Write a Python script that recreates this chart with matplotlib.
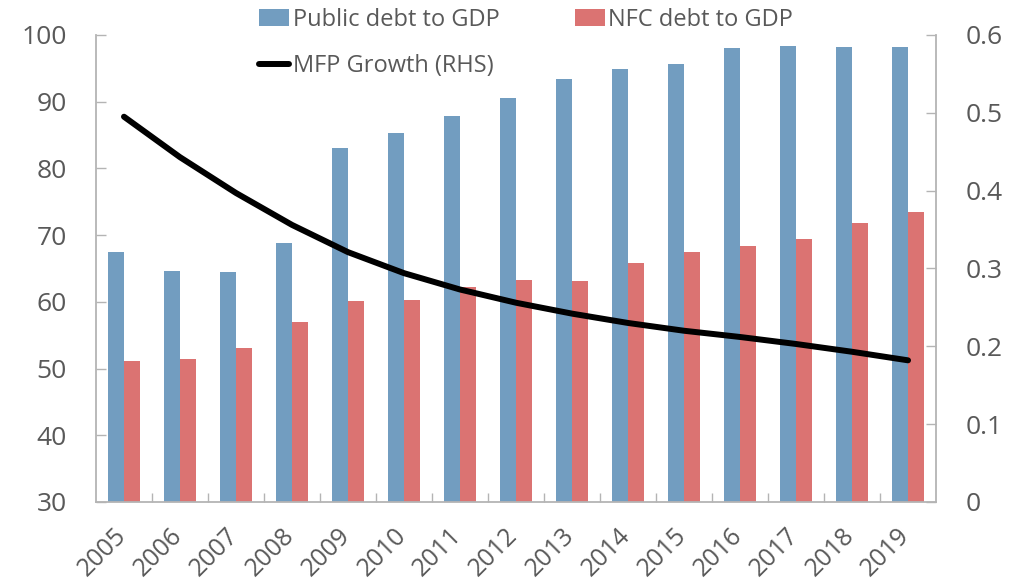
import numpy as np
import matplotlib
matplotlib.use('Agg')
import matplotlib.pyplot as plt
import matplotlib.transforms as mtransforms
from matplotlib.ticker import FixedLocator

plt.rcParams['font.family'] = ['Open Sans', 'DejaVu Sans']

years = ['2005', '2006', '2007', '2008', '2009', '2010', '2011', '2012',
         '2013', '2014', '2015', '2016', '2017', '2018', '2019']
public_debt = [67.4, 64.6, 64.5, 68.8, 83.1, 85.3, 87.8, 90.6,
               93.4, 94.9, 95.6, 98.0, 98.3, 98.15, 98.15]
nfc_debt = [51.2, 51.4, 53.1, 57.0, 60.2, 60.3, 62.2, 63.3,
            63.1, 65.8, 67.5, 68.4, 69.4, 71.8, 73.4]
mfp_growth = [0.495, 0.443, 0.397, 0.356, 0.321, 0.294, 0.273, 0.256,
              0.242, 0.230, 0.220, 0.212, 0.203, 0.193, 0.182]

blue = '#729dc0'
red = '#db7372'
grey_text = '#595959'
spine_col = '#b4b4b4'

fig = plt.figure(figsize=(10.31, 5.85), dpi=100)
ax = fig.add_axes([0.0931, 0.1419, 0.8148, 0.7983])
ax2 = ax.twinx()

x = np.arange(len(years))
w = 0.286
b1 = ax.bar(x - w / 2, public_debt, width=w, color=blue, label='Public debt to GDP', zorder=2)
b2 = ax.bar(x + w / 2, nfc_debt, width=w, color=red, label='NFC debt to GDP', zorder=2)
ln, = ax2.plot(x, mfp_growth, color='black', lw=4.3, solid_capstyle='round',
               label='MFP Growth (RHS)')

ax.set_xlim(-0.5, len(years) - 0.5)
ax.set_ylim(30, 100)
ax2.set_ylim(0, 0.6)
ax.set_yticks(np.arange(30, 101, 10))
ax2.set_yticks(np.arange(0, 0.61, 0.1))
ax2.set_yticklabels(['0', '0.1', '0.2', '0.3', '0.4', '0.5', '0.6'])

ax.set_xticks(x)
ax.set_xticklabels(years, rotation=45, ha='right')
ax.xaxis.set_minor_locator(FixedLocator(np.arange(0.5, len(years) - 1, 1)))
ax.tick_params(axis='x', which='major', length=0, pad=15, labelsize=18, labelcolor=grey_text)
ax.tick_params(axis='x', which='minor', direction='in', length=6.5, width=1, color=spine_col)
ax.tick_params(axis='y', direction='in', length=7, width=1, color=spine_col,
               pad=21, labelsize=19, labelcolor=grey_text)
ax2.tick_params(axis='y', direction='in', length=7, width=1, color=spine_col,
                pad=21, labelsize=19, labelcolor=grey_text)

# nudge rotated year labels slightly right
offset = mtransforms.ScaledTranslation(7 / 100, 0, fig.dpi_scale_trans)
for lab in ax.get_xticklabels():
    lab.set_transform(lab.get_transform() + offset)

for a in (ax, ax2):
    a.spines['top'].set_visible(False)
    for s in ('left', 'right', 'bottom'):
        a.spines[s].set_color(spine_col)
        a.spines[s].set_linewidth(1.3)
ax.spines['right'].set_visible(False)
ax2.spines['left'].set_visible(False)
ax2.spines['bottom'].set_visible(False)

fig.legend([b1, ln, b2], ['Public debt to GDP', 'MFP Growth (RHS)', 'NFC debt to GDP'],
           loc='upper left', bbox_to_anchor=(259 / 1031, 1 - 8 / 585), ncol=2,
           frameon=False, borderpad=0, borderaxespad=0, fontsize=17,
           handlelength=1.27, handletextpad=0.15, columnspacing=3.2,
           labelspacing=0.95, labelcolor=grey_text)

fig.savefig('out.png', dpi=100)
